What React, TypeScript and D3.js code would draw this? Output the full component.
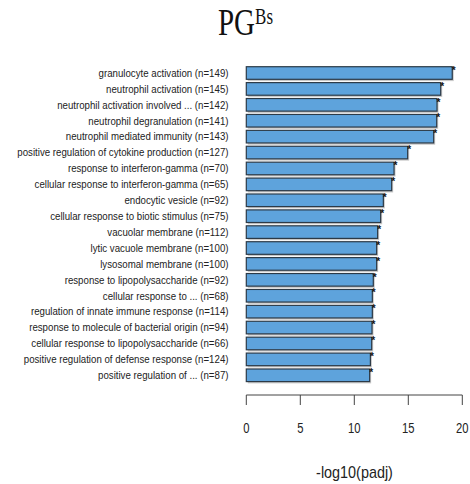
import React from "react";
import * as d3 from "d3";

// GO terms (top to bottom) and their enrichment scores
const terms = [
  "granulocyte activation (n=149)",
  "neutrophil activation (n=145)",
  "neutrophil activation involved ... (n=142)",
  "neutrophil degranulation (n=141)",
  "neutrophil mediated immunity (n=143)",
  "positive regulation of cytokine production (n=127)",
  "response to interferon-gamma (n=70)",
  "cellular response to interferon-gamma (n=65)",
  "endocytic vesicle (n=92)",
  "cellular response to biotic stimulus (n=75)",
  "vacuolar membrane (n=112)",
  "lytic vacuole membrane (n=100)",
  "lysosomal membrane (n=100)",
  "response to lipopolysaccharide (n=92)",
  "cellular response to ... (n=68)",
  "regulation of innate immune response (n=114)",
  "response to molecule of bacterial origin (n=94)",
  "cellular response to lipopolysaccharide (n=66)",
  "positive regulation of defense response (n=124)",
  "positive regulation of ... (n=87)",
];
const scores = [
  19.07, 18.0, 17.66, 17.63, 17.35, 14.94, 13.68, 13.46, 12.69, 12.44,
  12.16, 12.07, 12.07, 11.76, 11.67, 11.67, 11.64, 11.61, 11.49, 11.42,
];
const xTicks = [0, 5, 10, 15, 20];
const xDomain = [0, 20];

const W = 470;
const H = 484;

export default function App() {
  const x = d3.scaleLinear().domain(xDomain).range([246.3, 462.3]);
  const y = d3
    .scaleBand<string>()
    .domain(terms)
    .range([63.4, 384.9])
    .paddingInner(0.208)
    .paddingOuter(0.208);
  const bw = y.bandwidth();
  const axisY = 395;
  const sans = "'Liberation Sans', Arial, sans-serif";

  return (
    <svg
      width={W}
      height={H}
      style={{ position: "absolute", left: 0, top: 0, background: "#fff" }}
    >
      {/* title */}
      <g transform="translate(218,34.7) scale(1,1.3)">
        <text
          fontFamily="'Liberation Serif', 'Times New Roman', serif"
          fontSize={29}
          fill="#111"
        >
          PG
          <tspan fontSize={17} dy={-8.5}>
            Bs
          </tspan>
        </text>
      </g>

      {/* bars with drop shadow */}
      {terms.map((t, i) => {
        const y0 = y(t)!;
        const x0 = x(0);
        const x1 = x(scores[i]);
        return (
          <g key={t}>
            <rect
              x={x0 + 1.5}
              y={y0 + 1.8}
              width={x1 - x0}
              height={bw}
              fill="#c9c9c9"
            />
            <rect
              x={x0}
              y={y0}
              width={x1 - x0}
              height={bw}
              fill="#5ea3dc"
              stroke="#2c3a47"
              strokeWidth={1.2}
            />
            <text
              x={x1 - 0.5}
              y={y0 + 7}
              fontFamily={sans}
              fontSize={10}
              fontWeight="bold"
              fill="#111"
            >
              *
            </text>
            <g transform={`translate(228.5,${y0 + bw / 2 + 3.8}) scale(0.88,1)`}>
              <text textAnchor="end" fontFamily={sans} fontSize={11} fill="#222">
                {t}
              </text>
            </g>
          </g>
        );
      })}

      {/* x axis */}
      <line
        x1={x(xDomain[0])}
        x2={x(xDomain[1])}
        y1={axisY}
        y2={axisY}
        stroke="#444"
        strokeWidth={1}
      />
      {xTicks.map((v) => (
        <g key={v}>
          <line
            x1={x(v)}
            x2={x(v)}
            y1={axisY}
            y2={axisY + 10}
            stroke="#444"
            strokeWidth={1}
          />
          <g transform={`translate(${x(v)},${433}) scale(0.75,1)`}>
            <text textAnchor="middle" fontFamily={sans} fontSize={15} fill="#222">
              {v}
            </text>
          </g>
        </g>
      ))}
      <g transform={`translate(${(316 + 393) / 2},${478}) scale(0.9,1)`}>
        <text textAnchor="middle" fontFamily={sans} fontSize={16} fill="#222">
          -log10(padj)
        </text>
      </g>
    </svg>
  );
}
